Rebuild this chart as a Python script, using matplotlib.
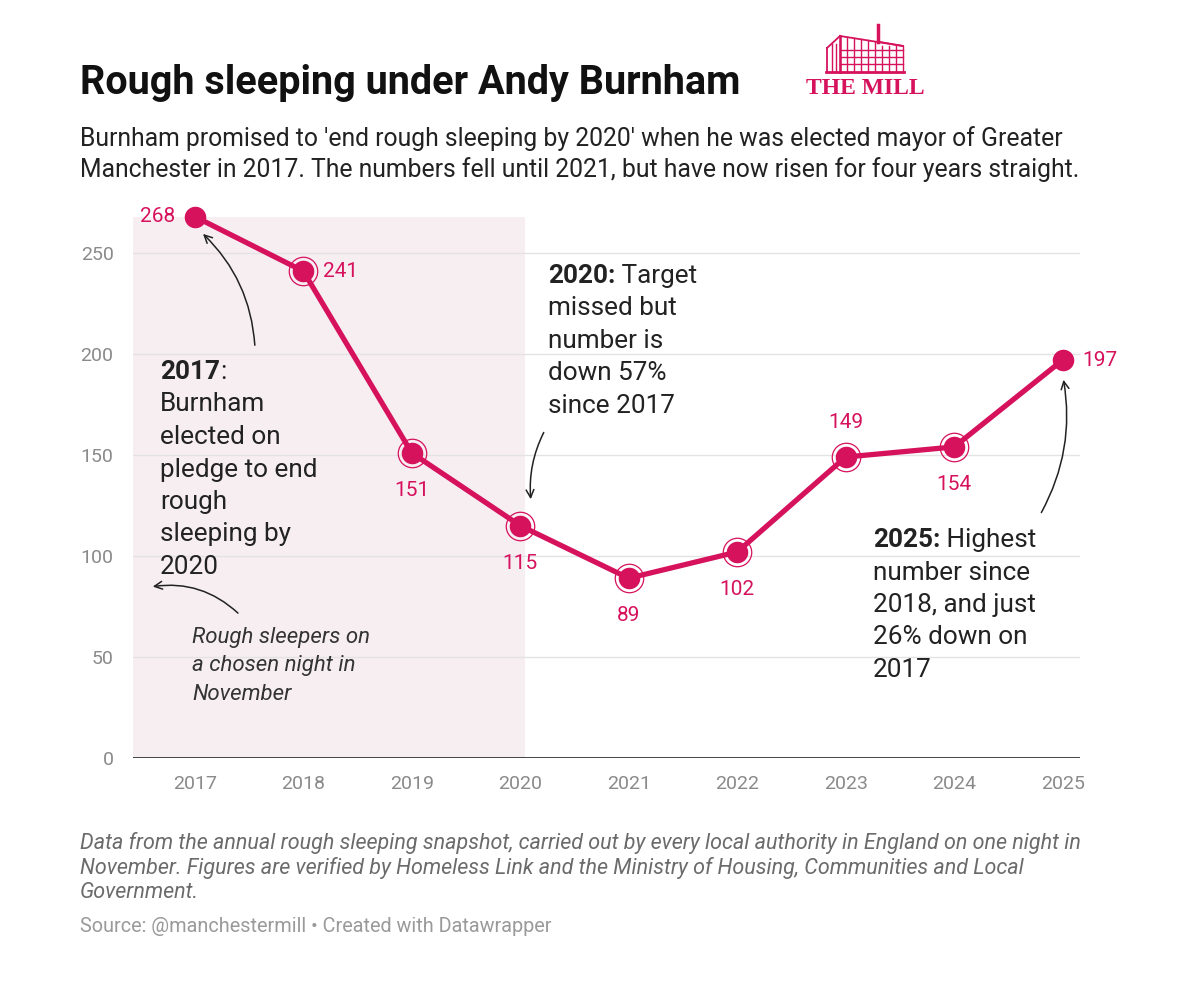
import matplotlib
matplotlib.use('Agg')
import matplotlib.pyplot as plt
from matplotlib.patches import FancyArrowPatch, Rectangle
from matplotlib.lines import Line2D

plt.rcParams['font.family'] = ['Roboto', 'DejaVu Sans']

years = [2017, 2018, 2019, 2020, 2021, 2022, 2023, 2024, 2025]
sleepers = [268, 241, 151, 115, 89, 102, 149, 154, 197]
label_pos = ['left', 'right', 'below', 'below', 'below', 'below', 'above', 'below', 'right']
y_ticks = [0, 50, 100, 150, 200, 250]

PINK = '#d6125d'
SHADE = '#f7eef2'
W, H = 1200, 983


def fx(px):
    return px / W


def fy(py):
    return 1 - py / H


fig = plt.figure(figsize=(12, 9.83), dpi=100)
ax = fig.add_axes([fx(133), fy(758), fx(1080) - fx(133), fy(212.6) - fy(758)])

ax.set_xlim(2016.43, 2025.16)
ax.set_ylim(0, 270)

# shaded Burnham-first-term box
ax.add_patch(Rectangle((2016.43, 0), 2020.04 - 2016.43, max(sleepers),
                       facecolor=SHADE, edgecolor='none', zorder=0))

for t in y_ticks[1:]:
    ax.axhline(t, color='#e3e3e3', lw=1, zorder=1)
ax.axhline(0, color='#333333', lw=2, zorder=2)

ax.plot(years, sleepers, color=PINK, lw=3.8, zorder=4, solid_capstyle='round',
        clip_on=False)
ax.plot(years, sleepers, 'o', color=PINK, ms=14.5, zorder=5, clip_on=False)
ax.plot(years[1:-1], sleepers[1:-1], 'o', mfc='none', mec=PINK, mew=0.9,
        ms=20.5, zorder=5, clip_on=False)

for x, v, pos in zip(years, sleepers, label_pos):
    if pos == 'left':
        off, ha, va = (-14, 0), 'right', 'center'
    elif pos == 'right':
        off, ha, va = (14, 0), 'left', 'center'
    elif pos == 'below':
        off, ha, va = (0, -27), 'center', 'center'
    else:
        off, ha, va = (0, 25), 'center', 'center'
    ax.annotate(str(v), (x, v), xytext=off, textcoords='offset points',
                ha=ha, va=va, color=PINK, fontsize=15, zorder=6,
                annotation_clip=False)

ax.set_xticks(years)
ax.set_xticklabels([str(y) for y in years])
ax.set_yticks(y_ticks)
ax.tick_params(axis='both', length=0, labelsize=14, colors='#8a8a8a')
ax.tick_params(axis='x', pad=12)
ax.tick_params(axis='y', pad=14)
for s in ax.spines.values():
    s.set_visible(False)
ax.patch.set_alpha(0)

# titles
fig.text(fx(80), fy(83), 'Rough sleeping under Andy Burnham', fontsize=28.5,
         fontweight='bold', color='#111111', va='center')
fig.text(fx(80), fy(139), "Burnham promised to 'end rough sleeping by 2020' when he was elected mayor of Greater",
         fontsize=17.8, color='#222222', va='center')
fig.text(fx(80), fy(170), "Manchester in 2017. The numbers fell until 2021, but have now risen for four years straight.",
         fontsize=17.8, color='#222222', va='center')

renderer = fig.canvas.get_renderer()


def annotation(px, py, bold, rest_first, lines, size=18.8, spacing=32.5):
    t = fig.text(fx(px), fy(py), bold, fontsize=size, fontweight='bold',
                 color='#222222', va='center', zorder=7)
    bb = t.get_window_extent(renderer)
    fig.text(fx(px) + bb.width / W, fy(py), rest_first, fontsize=size,
             color='#222222', va='center', zorder=7)
    for i, line in enumerate(lines):
        fig.text(fx(px), fy(py + spacing * (i + 1)), line, fontsize=size,
                 color='#222222', va='center', zorder=7)


annotation(160, 372, '2017', ':', ['Burnham', 'elected on', 'pledge to end',
                                   'rough', 'sleeping by', '2020'])
annotation(548, 276, '2020:', ' Target', ['missed but', 'number is',
                                         'down 57%', 'since 2017'])
annotation(873, 540, '2025:', ' Highest', ['number since', '2018, and just',
                                          '26% down on', '2017'])

for i, line in enumerate(['Rough sleepers on', 'a chosen night in', 'November']):
    fig.text(fx(192), fy(638 + 28 * i), line, fontsize=16, style='italic',
             color='#333333', va='center')


def arrow(p0, p1, rad):
    a = FancyArrowPatch((fx(p0[0]), fy(p0[1])), (fx(p1[0]), fy(p1[1])),
                        transform=fig.transFigure, arrowstyle='->',
                        mutation_scale=14, lw=1.1, color='#222222',
                        connectionstyle=f'arc3,rad={rad}')
    fig.patches.append(a)


arrow((255, 348), (201, 232), 0.2)
arrow((545, 430), (531, 502), 0.15)
arrow((240, 615), (150, 587), 0.25)
arrow((1040, 515), (1063, 377), 0.18)

# footer
notes = ['Data from the annual rough sleeping snapshot, carried out by every local authority in England on one night in',
         'November. Figures are verified by Homeless Link and the Ministry of Housing, Communities and Local',
         'Government.']
for i, line in enumerate(notes):
    fig.text(fx(80), fy(843 + 25 * i), line, fontsize=15.5, style='italic',
             color='#6b6b6b', va='center')
fig.text(fx(80), fy(927), 'Source: @manchestermill \u2022 Created with Datawrapper',
         fontsize=14.3, color='#9a9a9a', va='center')


# logo: simple mill building
def seg(x0, y0, x1, y1, lw=1.3):
    fig.lines.append(Line2D([fx(x0), fx(x1)], [fy(y0), fy(y1)],
                            transform=fig.transFigure, color=PINK, lw=lw))


seg(878, 25, 878, 42, 2.5)
# left slanted face
seg(827, 48, 840, 36)
seg(827, 48, 827, 72)
seg(840, 36, 903, 46)
for xv in (832, 836):
    seg(xv, 44, xv, 72, 1)
# main face
for xv in range(840, 905, 7):
    seg(xv, 36 + (xv - 840) * 10 / 63 if xv < 880 else 46, xv, 72, 1)
for yv in (50, 57, 64):
    seg(840, yv, 903, yv, 1)
seg(840, 36, 840, 72, 1.8)
seg(880, 42, 903, 46)
seg(826, 72, 904, 72, 2)
fig.text(fx(865), fy(88), 'THE MILL', fontsize=17, fontweight='bold',
         family=['Liberation Serif', 'DejaVu Serif'], color=PINK,
         ha='center', va='center')

fig.savefig('out.png', dpi=100, facecolor='white')
